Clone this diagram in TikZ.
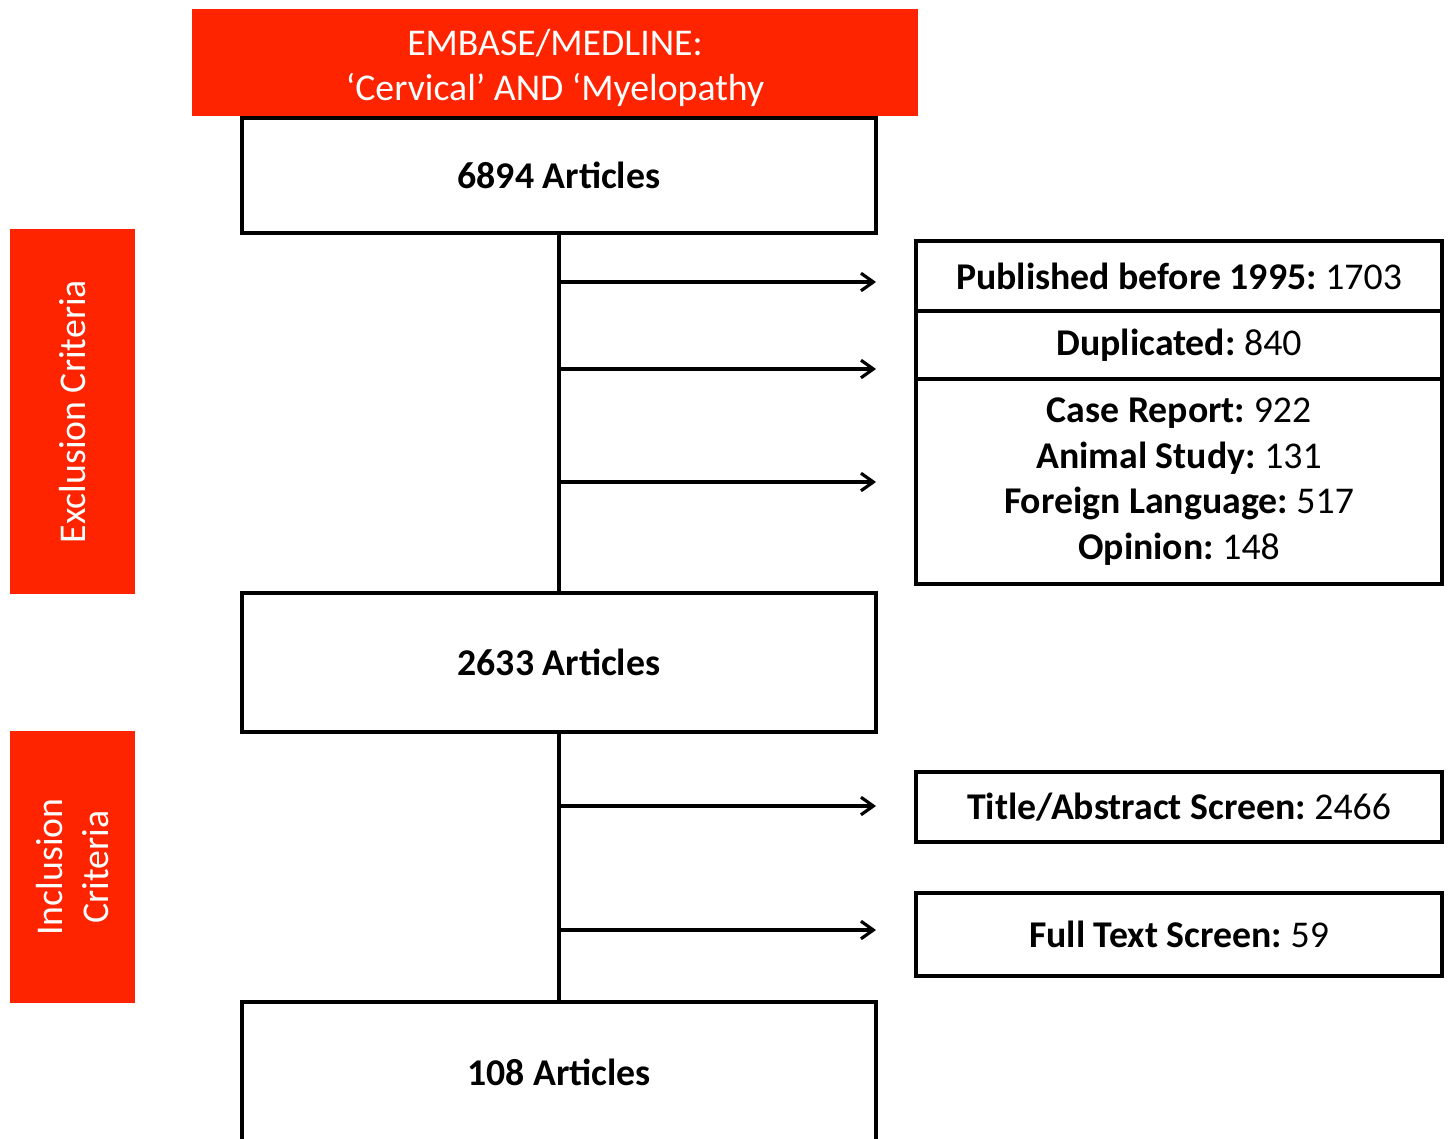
\documentclass[tikz,border=0pt]{standalone}
\usepackage{fontspec}
\setmainfont{Carlito}
\usetikzlibrary{arrows.meta}
\definecolor{critred}{RGB}{255,36,0}
\newcommand{\bigtext}{\fontsize{21.5}{26}\selectfont}
\tikzset{
    artbox/.style={draw, line width=2.4pt, minimum width=12.68cm, font=\bigtext\bfseries},
    exbox/.style={draw, line width=2.4pt, minimum width=10.52cm, align=center},
    redbox/.style={fill=critred, text=white, align=center},
    trunk/.style={line width=2.4pt},
    arr/.style={line width=1.8pt, -{Straight Barb[length=7pt,width=10pt,line width=1.8pt]}}
}
\begin{document}
\begin{tikzpicture}[x=0.02cm, y=-0.02cm, font=\bigtext]
    \def\mx{559}
    \def\rx{1179}
    \def\ax{876}
    \useasboundingbox (0,0) rectangle (1448,1139);

    % search
    \node[redbox, minimum width=14.52cm, minimum height=2.14cm] (search) at (555,62.5)
        {\rule{0pt}{21pt}EMBASE/MEDLINE:\\‘Cervical’ AND ‘Myelopathy};

    % articles
    \node[artbox, minimum height=2.3cm] (a6894) at (\mx,175.5) {6894 Articles};
    \node[artbox, minimum height=2.78cm] (a2633) at (\mx,662.5) {2633 Articles};
    \node[artbox, minimum height=2.8cm] (a108) at (\mx,1072) {108 Articles};
    \draw[trunk] (a6894) -- (a2633);
    \draw[trunk] (a2633) -- (a108);

    % side labels
    \node[redbox, rotate=90, minimum width=7.3cm, minimum height=2.5cm] (excl) at (72.5,411.5) {Exclusion Criteria};
    \node[redbox, rotate=90, minimum width=5.44cm, minimum height=2.5cm] (incl) at (72.5,867) {Inclusion\\Criteria};

    % exclusions
    \node[exbox, minimum height=1.4cm] (pub) at (\rx,276) {\textbf{Published before 1995:}~1703};
    \node[exbox, minimum height=1.36cm] (dup) at (\rx,345) {\textbf{Duplicated:}~840};
    \node[exbox, minimum height=4.1cm] (misc) at (\rx,481.5)
        {\textbf{Case Report:}~922\\\textbf{Animal Study:}~131\\\textbf{Foreign Language:}~517\\\textbf{Opinion:}~148};
    \node[exbox, minimum height=1.4cm] (title) at (\rx,807) {\textbf{Title/Abstract Screen:}~2466};
    \node[exbox, minimum height=1.66cm] (full) at (\rx,934.5) {\textbf{Full Text Screen:}~59};

    % arrows
    \coordinate (s1) at (\mx,282);
    \coordinate (t1) at (\ax,282);
    \coordinate (s2) at (\mx,369);
    \coordinate (t2) at (\ax,369);
    \coordinate (s3) at (\mx,482);
    \coordinate (t3) at (\ax,482);
    \coordinate (s4) at (\mx,806);
    \coordinate (t4) at (\ax,806);
    \coordinate (s5) at (\mx,930);
    \coordinate (t5) at (\ax,930);
    \draw[arr] (s1) -- (t1);
    \draw[arr] (s2) -- (t2);
    \draw[arr] (s3) -- (t3);
    \draw[arr] (s4) -- (t4);
    \draw[arr] (s5) -- (t5);
\end{tikzpicture}
\end{document}
